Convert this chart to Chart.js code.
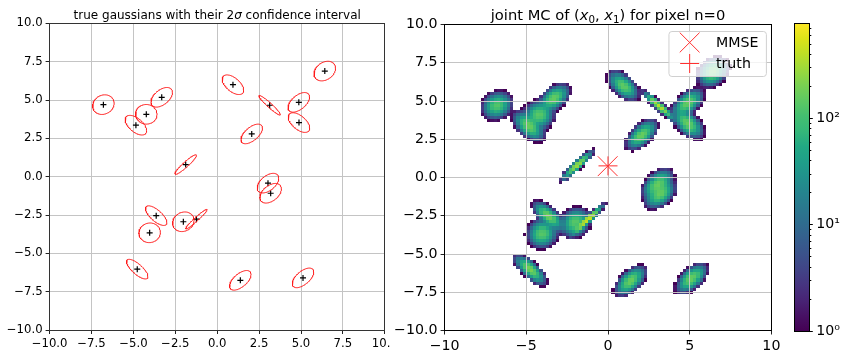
<!DOCTYPE html>
<html><head><meta charset="utf-8">
<script src="https://cdn.jsdelivr.net/npm/chart.js@4.4.1/dist/chart.umd.min.js"></script>
<style>
html,body{margin:0;padding:0;background:#fff;}
body{width:843px;height:350px;position:relative;overflow:hidden;}
canvas{position:absolute;top:0;}
#c1{left:0;} #c2{left:390px;} #c3{left:790px;}
</style></head><body>
<canvas id="c1" width="390" height="350"></canvas>
<canvas id="c2" width="400" height="350"></canvas>
<canvas id="c3" width="53" height="350"></canvas>
<script>
// ---------------- data ----------------
const gaussX   = [-6.79,-4.85,-4.23,-3.31,-1.88, 0.94, 2.06, 3.13, 4.87, 4.88, 6.42, 3.03, 3.19,-3.64,-4.03,-2.02,-1.24,-4.77, 1.38, 5.12];
const gaussY   = [ 4.70, 3.36, 4.07, 5.18, 0.79, 6.00, 2.79, 4.66, 4.85, 3.53, 6.89,-0.42,-1.08,-2.54,-3.66,-2.94,-2.77,-6.03,-6.76,-6.60];
const gaussRho = [ 0.15,-0.55, 0.00, 0.50, 0.94,-0.55, 0.60,-0.95, 0.55,-0.55, 0.30, 0.50, 0.45,-0.70, 0.05, 0.15, 0.97,-0.75, 0.60, 0.60];
const gaussSigma = 0.32;             // std-dev of each true gaussian (2σ ellipse drawn)
const mcSigma = 0.33;                // spread of the MC samples of each component
const mcSamples = [2300,2500,2500,2500,2200,2300,2500,2600,2500,2500,2600,2500,2500,2500,2400,2400,3200,2500,2500,2400];
const mmseX = [-0.02], mmseY = [0.74];
const truthX = [0.0],  truthY = [0.76];
const axisTicks25 = [-10,-7.5,-5,-2.5,0,2.5,5,7.5,10];
const rightXTicks = [-10,-5,0,5,10];
const cbMax = 790;
const cbMajor = [1,10,100];
const cbMinor = [2,3,4,5,6,7,8,9,20,30,40,50,60,70,80,90,200,300,400,500,600,700];
const histLo = -10, histHi = 10, histBins = 100;

// ---------------- helpers ----------------
const FONT = '"DejaVu Sans", Verdana, sans-serif';
const minus = v => (v < 0 ? '\u2212' : '') ;
const fmt1 = v => minus(v) + Math.abs(v).toFixed(1);
const fmt0 = v => minus(v) + Math.abs(v).toFixed(0);
const viridisStops = ['#440154','#471164','#482475','#463480','#414487','#3b528b','#355f8d','#2f6c8e','#2a788e','#25848e','#21918c','#1f9e89','#22a884','#35b779','#44bf70','#5ec962','#7ad151','#9bd93c','#bddf26','#dde318','#fde725'];
const hexRgb = h => [parseInt(h.slice(1,3),16),parseInt(h.slice(3,5),16),parseInt(h.slice(5,7),16)];
const vRgb = viridisStops.map(hexRgb);
function viridis(t){
  t = Math.max(0, Math.min(1, t));
  const f = t*(vRgb.length-1), i = Math.min(Math.floor(f), vRgb.length-2), u = f - i;
  const a = vRgb[i], b = vRgb[i+1];
  return 'rgb(' + a.map((c,k)=>Math.round(c + (b[k]-c)*u)).join(',') + ')';
}
function ellipsePts(k){
  const pts = [], r = gaussRho[k], q = Math.sqrt(1 - r*r);
  for (let i = 0; i <= 90; i++){
    const t = i/90*2*Math.PI;
    pts.push({x: gaussX[k] + 2*gaussSigma*Math.cos(t),
              y: gaussY[k] + 2*gaussSigma*(r*Math.cos(t) + q*Math.sin(t))});
  }
  return pts;
}
// 2-D histogram of the MC samples (expected count per bin)
function buildHist(){
  const bw = (histHi - histLo)/histBins, sub = 6, cells = [];
  for (let i = 0; i < histBins; i++) for (let j = 0; j < histBins; j++){
    const x0 = histLo + i*bw, y0 = histLo + j*bw;
    let c = 0;
    for (let k = 0; k < gaussX.length; k++){
      if (Math.abs(x0 + bw/2 - gaussX[k]) > 2.2 || Math.abs(y0 + bw/2 - gaussY[k]) > 2.2) continue;
      const r = gaussRho[k], det = 1 - r*r, s = mcSigma;
      const norm = mcSamples[k]/(2*Math.PI*s*s*Math.sqrt(det));
      let acc = 0;
      for (let a = 0; a < sub; a++) for (let b = 0; b < sub; b++){
        const dx = (x0 + (a+0.5)*bw/sub - gaussX[k])/s, dy = (y0 + (b+0.5)*bw/sub - gaussY[k])/s;
        acc += Math.exp(-0.5*(dx*dx - 2*r*dx*dy + dy*dy)/det);
      }
      c += norm*acc/(sub*sub)*bw*bw;
    }
    if (c >= 0.8) cells.push({x: x0 + bw/2, y: y0 + bw/2, c: c, w: bw});
  }
  return cells;
}
function drawRich(ctx, parts, cx, base, size){
  const fontOf = p => (p.it ? 'italic ' : '') + (p.sub ? size*0.7 : size) + 'px ' + FONT;
  let tot = 0;
  parts.forEach(p => { ctx.font = fontOf(p); p.w = ctx.measureText(p.t).width; tot += p.w; });
  let x = cx - tot/2;
  ctx.textAlign = 'left'; ctx.textBaseline = 'alphabetic'; ctx.fillStyle = '#000';
  parts.forEach(p => { ctx.font = fontOf(p); ctx.fillText(p.t, x, base + (p.sub ? size*0.22 : 0)); x += p.w; });
}
const framePlugin = {
  id: 'frame',
  afterDatasetsDraw(chart, args, opts){
    const a = chart.chartArea, c = chart.ctx;
    const L = Math.round(a.left - 0.5) + 0.5, R = Math.round(a.right - 0.5) + 0.5;
    const T = Math.round(a.top - 0.5) + 0.5, B = Math.round(a.bottom - 0.5) + 0.5;
    c.save(); c.strokeStyle = opts.color || '#000'; c.lineWidth = 1;
    c.strokeRect(L, T, R - L, B - T); c.restore();
  }
};
const titlePlugin = {
  id: 'richTitle',
  afterDraw(chart, args, opts){
    if (!opts.parts) return;
    const a = chart.chartArea, c = chart.ctx;
    c.save(); drawRich(c, opts.parts, (a.left + a.right)/2, opts.base, opts.size); c.restore();
  }
};
const tickStyle = (size) => ({font: {family: FONT, size: size}, color: '#000', padding: 3, maxRotation: 0, autoSkip: false});
const gridStyle = {color: '#c4c4c4', lineWidth: 1, tickLength: 4, tickColor: '#222'};

// ---------------- left chart ----------------
const leftDatasets = gaussX.map((_, k) => ({
  label: 'ellipse ' + k, data: ellipsePts(k), showLine: true, fill: false,
  borderColor: '#ff1a1a', borderWidth: 1, pointRadius: 0, tension: 0
}));
leftDatasets.push({
  label: 'means', data: gaussX.map((x, k) => ({x: x, y: gaussY[k]})),
  pointStyle: 'cross', pointRadius: 3, borderColor: '#000', borderWidth: 1.2, showLine: false
});
new Chart(document.getElementById('c1'), {
  type: 'scatter',
  data: {datasets: leftDatasets},
  options: {
    responsive: false, animation: false, events: [],
    layout: {padding: {top: 23.4, right: 5, left: 0, bottom: 0}},
    plugins: {legend: {display: false}, tooltip: {enabled: false},
      frame: {color: '#333'},
      richTitle: {size: 12, base: 18.5, parts: [{t: 'true gaussians with their 2'}, {t: '\u03c3', it: true}, {t: ' confidence interval'}]}},
    scales: {
      x: {type: 'linear', min: -10, max: 10,
          afterBuildTicks: s => { s.ticks = axisTicks25.map(v => ({value: v})); },
          ticks: Object.assign(tickStyle(11.7), {callback: v => fmt1(v)}),
          grid: gridStyle, border: {display: false},
          afterFit: s => { s.height = 20; s.paddingLeft = 0; s.paddingRight = 0; }},
      y: {type: 'linear', min: -10, max: 10,
          afterBuildTicks: s => { s.ticks = axisTicks25.map(v => ({value: v})); },
          ticks: Object.assign(tickStyle(11.7), {callback: v => fmt1(v)}),
          grid: gridStyle, border: {display: false},
          afterFit: s => { s.width = 49.6; s.paddingTop = 0; s.paddingBottom = 0; }}
    }
  },
  plugins: [framePlugin, titlePlugin]
});

// ---------------- right chart ----------------
const histCells = buildHist();
const heatPlugin = {
  id: 'heat',
  beforeDraw(chart){
    const ds = chart.data.datasets.find(d => d.isHist);
    const xs = chart.scales.x, ys = chart.scales.y, c = chart.ctx;
    c.save();
    ds.data.forEach(p => {
      const x0 = Math.round(xs.getPixelForValue(p.x - p.w/2)), x1 = Math.round(xs.getPixelForValue(p.x + p.w/2));
      const y0 = Math.round(ys.getPixelForValue(p.y + p.w/2)), y1 = Math.round(ys.getPixelForValue(p.y - p.w/2));
      c.fillStyle = viridis(Math.log(Math.max(p.c, 1))/Math.log(cbMax));
      c.fillRect(x0, y0, x1 - x0, y1 - y0);
    });
    c.restore();
  }
};
const legendPlugin = {
  id: 'boxLegend',
  afterDraw(chart){
    const items = chart.data.datasets.filter(d => d.inLegend);
    const a = chart.chartArea, c = chart.ctx;
    c.save();
    c.font = '14.2px ' + FONT;
    const tw = Math.max(...items.map(d => c.measureText(d.label).width));
    const w = 47 + tw + 8, h = 45, x = a.right - 5 - w, y = a.top + 7, r = 3;
    c.beginPath();
    c.moveTo(x + r, y); c.lineTo(x + w - r, y); c.arcTo(x + w, y, x + w, y + r, r);
    c.lineTo(x + w, y + h - r); c.arcTo(x + w, y + h, x + w - r, y + h, r);
    c.lineTo(x + r, y + h); c.arcTo(x, y + h, x, y + h - r, r);
    c.lineTo(x, y + r); c.arcTo(x, y, x + r, y, r); c.closePath();
    c.fillStyle = 'rgba(255,255,255,0.8)'; c.fill();
    c.strokeStyle = '#d0d0d0'; c.lineWidth = 1; c.stroke();
    items.forEach((d, i) => {
      const cy = y + 11 + i*21;
      c.strokeStyle = d.borderColor; c.lineWidth = d.borderWidth;
      Chart.helpers.drawPoint(c, {pointStyle: d.pointStyle, radius: d.pointRadius, borderWidth: d.borderWidth, rotation: 0}, x + 20.7, cy);
      c.fillStyle = '#000'; c.textAlign = 'left'; c.textBaseline = 'middle';
      c.fillText(d.label, x + 47, cy + 1);
    });
    c.restore();
  }
};
new Chart(document.getElementById('c2'), {
  type: 'scatter',
  data: {datasets: [
    {label: 'hist', isHist: true, data: histCells, pointRadius: 0, showLine: false},
    {label: 'MMSE', inLegend: true, data: mmseX.map((x, i) => ({x: x, y: mmseY[i]})),
     pointStyle: 'crossRot', pointRadius: 14, borderColor: '#ff3030', borderWidth: 1},
    {label: 'truth', inLegend: true, data: truthX.map((x, i) => ({x: x, y: truthY[i]})),
     pointStyle: 'cross', pointRadius: 9.5, borderColor: '#ff3030', borderWidth: 1}
  ]},
  options: {
    responsive: false, animation: false, events: [], parsing: true,
    layout: {padding: {top: 24.5, right: 18.6, left: 0, bottom: 0}},
    plugins: {legend: {display: false}, tooltip: {enabled: false},
      frame: {color: '#000'},
      richTitle: {size: 14.7, base: 19.5, parts: [{t: 'joint MC of ('}, {t: 'x', it: true}, {t: '0', sub: true}, {t: ', '}, {t: 'x', it: true}, {t: '1', sub: true}, {t: ') for pixel n=0'}]}},
    scales: {
      x: {type: 'linear', min: -10, max: 10,
          afterBuildTicks: s => { s.ticks = rightXTicks.map(v => ({value: v})); },
          ticks: Object.assign(tickStyle(14.2), {callback: v => fmt0(v)}),
          grid: gridStyle, border: {display: false},
          afterFit: s => { s.height = 19.5; s.paddingLeft = 0; s.paddingRight = 0; }},
      y: {type: 'linear', min: -10, max: 10,
          afterBuildTicks: s => { s.ticks = axisTicks25.map(v => ({value: v})); },
          ticks: Object.assign(tickStyle(14.2), {callback: v => fmt1(v)}),
          grid: gridStyle, border: {display: false},
          afterFit: s => { s.width = 54.6; s.paddingTop = 0; s.paddingBottom = 0; }}
    }
  },
  plugins: [heatPlugin, framePlugin, titlePlugin, legendPlugin]
});

// ---------------- colorbar ----------------
const sup = {1: '\u2070', 10: '\u00b9', 100: '\u00b2'};
const cbPlugin = {
  id: 'cbar',
  beforeDatasetsDraw(chart){
    const a = chart.chartArea, c = chart.ctx, ys = chart.scales.y;
    const g = c.createLinearGradient(0, ys.getPixelForValue(1), 0, ys.getPixelForValue(cbMax));
    viridisStops.forEach((col, i) => g.addColorStop(i/(viridisStops.length - 1), col));
    c.save(); c.fillStyle = g; c.fillRect(a.left, a.top, a.right - a.left, a.bottom - a.top);
    c.strokeStyle = '#000'; c.lineWidth = 1;
    cbMajor.concat(cbMinor).forEach(v => {
      const y = Math.round(ys.getPixelForValue(v) - 0.5) + 0.5, len = cbMajor.includes(v) ? 3.5 : 2;
      c.beginPath(); c.moveTo(a.right, y); c.lineTo(a.right + len, y); c.stroke();
    });
    c.restore();
  }
};
new Chart(document.getElementById('c3'), {
  type: 'scatter',
  data: {datasets: []},
  options: {
    responsive: false, animation: false, events: [],
    layout: {padding: {top: 23.3, left: 4, right: 0, bottom: 19}},
    plugins: {legend: {display: false}, tooltip: {enabled: false}, frame: {color: '#000'}},
    scales: {
      x: {display: false, type: 'linear', min: 0, max: 1},
      y: {type: 'logarithmic', position: 'right', min: 1, max: cbMax,
          afterBuildTicks: s => { s.ticks = cbMajor.concat(cbMinor).sort((a, b) => a - b).map(v => ({value: v})); },
          ticks: {font: {family: FONT, size: 14.2}, color: '#000', padding: 7, autoSkip: false,
                  callback: v => cbMajor.includes(v) ? '10' + sup[v] : ''},
          grid: {display: false, drawTicks: false}, border: {display: false},
          afterFit: s => { s.width = 33.7; s.paddingTop = 0; s.paddingBottom = 0; }}
    }
  },
  plugins: [cbPlugin, framePlugin]
});
</script>
</body></html>
